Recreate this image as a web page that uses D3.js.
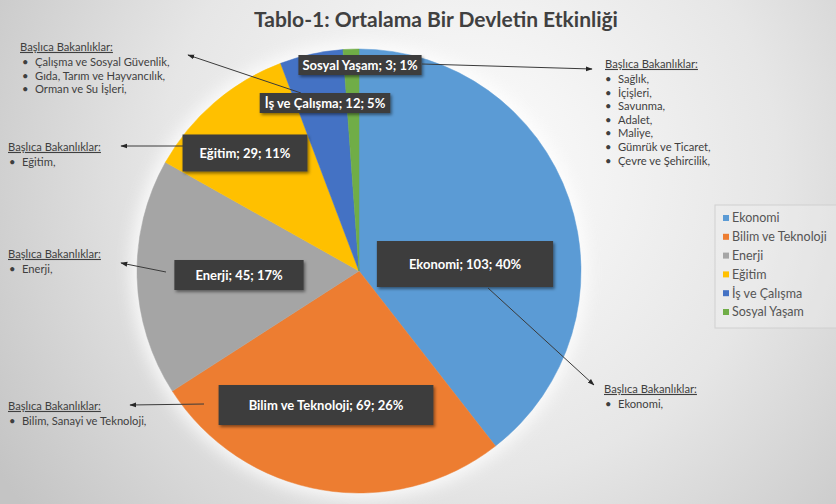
<!DOCTYPE html>
<html>
<head>
<meta charset="utf-8">
<script src="https://cdn.jsdelivr.net/npm/d3@7"></script>
<style>
  html, body { margin: 0; padding: 0; background: #fff; }
  svg { display: block; font-family: Lato, "Open Sans", sans-serif; }
</style>
</head>
<body>
<div id="viz"></div>
<script>
// chart data
var categories = ['Ekonomi', 'Bilim ve Teknoloji', 'Enerji', 'Eğitim', 'İş ve Çalışma', 'Sosyal Yaşam'],
    values = [103, 69, 45, 29, 12, 3],
    percents = [40, 26, 17, 11, 5, 1],
    colors = ['#5b9bd5', '#ed7d31', '#a5a5a5', '#ffc000', '#4472c4', '#70ad47'];

// callout texts
var noteTitle = 'Başlıca Bakanlıklar:',
    ministries = [
        ['Sağlık,', 'İçişleri,', 'Savunma,', 'Adalet,', 'Maliye,', 'Gümrük ve Ticaret,', 'Çevre ve Şehircilik,'],
        ['Ekonomi,'],
        ['Bilim, Sanayi ve Teknoloji,'],
        ['Enerji,'],
        ['Eğitim,'],
        ['Çalışma ve Sosyal Güvenlik,', 'Gıda, Tarım ve Hayvancılık,', 'Orman ve Su İşleri,']
    ];

var width = 836, height = 504,
    cx = 359, cy = 271, radius = 222;

// label boxes: centre offset from the pie centre and [half height, side padding]
// (placed by hand like in the original)
var labelOffsets = [[106, -7], [-33, 134], [-120, 4], [-114, -118], [-34, -168], [1, -206]],
    labelPad = [[22, 32], [19, 30], [14, 21], [17.5, 17], [9, 5], [9, 4]];

// callout layout: block position, arrow start and arrow end
var noteLayout = [
    { x: 605, y: 64, bx: 0, from: [422, 64], to: [592, 69] },
    { x: 604, y: 389, bx: 1, from: [488, 288], to: [594, 385] },
    { x: 8, y: 406, bx: 1, from: [204, 404], to: [130, 405] },
    { x: 8, y: 254, bx: 1, from: [166, 272], to: [121, 263] },
    { x: 8, y: 147, bx: 1, from: [183, 146], to: [121, 146] },
    { x: 20, y: 47, bx: 2, from: [301, 93], to: [188, 55] }
];

var svg = d3.select('#viz').append('svg')
    .attr('width', width)
    .attr('height', height);

var defs = svg.append('defs');

var bg = defs.append('radialGradient')
    .attr('id', 'bg')
    .attr('gradientUnits', 'userSpaceOnUse')
    .attr('cx', 470).attr('cy', 170).attr('r', 560);
bg.append('stop').attr('offset', '0%').attr('stop-color', '#fdfdfd');
bg.append('stop').attr('offset', '55%').attr('stop-color', '#e6e6e6');
bg.append('stop').attr('offset', '100%').attr('stop-color', '#c4c4c4');

var glow = defs.append('filter').attr('id', 'glow')
    .attr('x', '-20%').attr('y', '-20%').attr('width', '140%').attr('height', '140%');
glow.append('feGaussianBlur').attr('stdDeviation', 8);

var shadow = defs.append('filter').attr('id', 'shadow')
    .attr('x', '-20%').attr('y', '-40%').attr('width', '140%').attr('height', '180%');
shadow.append('feDropShadow')
    .attr('dx', 1.5).attr('dy', 2).attr('stdDeviation', 1.5)
    .attr('flood-color', '#000').attr('flood-opacity', 0.45);

defs.append('marker')
    .attr('id', 'arrow')
    .attr('viewBox', '0 0 10 10')
    .attr('refX', 9).attr('refY', 5)
    .attr('markerWidth', 7).attr('markerHeight', 7)
    .attr('orient', 'auto')
    .append('path')
    .attr('d', 'M0,1.5L10,5L0,8.5Z')
    .attr('fill', '#262626');

svg.append('rect')
    .attr('width', width).attr('height', height)
    .attr('fill', 'url(#bg)');

// title
svg.append('text')
    .attr('x', 436).attr('y', 27)
    .attr('text-anchor', 'middle')
    .attr('font-size', 21)
    .attr('font-weight', 700)
    .attr('fill', '#404040')
    .text('Tablo-1: Ortalama Bir Devletin Etkinliği');

// pie
var data = categories.map(function (c, i) {
    return { name: c, value: values[i], pct: percents[i], color: colors[i], i: i };
});

var pie = d3.pie().sort(null).value(function (d) { return d.value; });
var arc = d3.arc().innerRadius(0).outerRadius(radius);

var g = svg.append('g').attr('transform', 'translate(' + cx + ',' + cy + ')');

g.append('circle')
    .attr('r', radius + 6)
    .attr('fill', '#ffffff')
    .attr('opacity', 0.8)
    .attr('filter', 'url(#glow)');

g.selectAll('path.slice')
    .data(pie(data))
    .enter().append('path')
    .attr('class', 'slice')
    .attr('d', arc)
    .attr('fill', function (d) { return d.data.color; })
    .attr('stroke', function (d) { return d.data.color; })
    .attr('stroke-width', 0.5);

// callout arrows
svg.selectAll('line.note-arrow')
    .data(noteLayout)
    .enter().append('line')
    .attr('class', 'note-arrow')
    .attr('x1', function (d) { return d.from[0]; })
    .attr('y1', function (d) { return d.from[1]; })
    .attr('x2', function (d) { return d.to[0]; })
    .attr('y2', function (d) { return d.to[1]; })
    .attr('stroke', '#3a3a3a')
    .attr('stroke-width', 1)
    .attr('marker-end', 'url(#arrow)');

// data labels
var labels = g.selectAll('g.label')
    .data(data)
    .enter().append('g')
    .attr('class', 'label')
    .attr('transform', function (d) {
        var o = labelOffsets[d.i];
        return 'translate(' + o[0] + ',' + o[1] + ')';
    });

labels.each(function (d) {
    var sel = d3.select(this);
    var t = sel.append('text')
        .attr('text-anchor', 'middle')
        .attr('dy', '0.35em')
        .attr('font-size', 13)
        .attr('font-weight', 700)
        .attr('fill', '#ffffff')
        .text(d.name + '; ' + d.value + '; ' + d.pct + '%');
    var w = t.node().getComputedTextLength(),
        p = labelPad[d.i];
    sel.insert('rect', 'text')
        .attr('x', -w / 2 - p[1])
        .attr('y', -p[0] - 1)
        .attr('width', w + 2 * p[1])
        .attr('height', 2 * p[0] + 2)
        .attr('fill', '#3d3d3d')
        .attr('filter', 'url(#shadow)');
});

// callout text blocks
var notes = svg.selectAll('g.note')
    .data(noteLayout)
    .enter().append('g')
    .attr('class', 'note')
    .attr('transform', function (d) { return 'translate(' + d.x + ',' + d.y + ')'; })
    .attr('font-size', 11.2)
    .attr('fill', '#3f3f3f');

notes.append('text')
    .attr('dy', '0.35em')
    .attr('text-decoration', 'underline')
    .text(noteTitle);

notes.each(function (d, i) {
    var items = d3.select(this).selectAll('g.item')
        .data(ministries[i])
        .enter().append('g')
        .attr('class', 'item')
        .attr('transform', function (m, j) { return 'translate(0,' + (15 + j * 13.6) + ')'; });
    items.append('text').attr('x', d.bx).attr('dy', '0.35em').text('•');
    items.append('text').attr('x', 13 + d.bx).attr('dy', '0.35em').text(function (m) { return m; });
});

// legend
var legend = svg.append('g').attr('transform', 'translate(715,205)');
legend.append('rect')
    .attr('width', 130).attr('height', 123)
    .attr('fill', '#f2f2f2').attr('fill-opacity', 0.35)
    .attr('stroke', '#d0d0d0').attr('stroke-width', 1);

var li = legend.selectAll('g.li')
    .data(data)
    .enter().append('g')
    .attr('class', 'li')
    .attr('transform', function (d, i) { return 'translate(8,' + (13 + i * 18.8) + ')'; });
li.append('rect')
    .attr('x', 0).attr('y', -3)
    .attr('width', 6).attr('height', 6)
    .attr('fill', function (d) { return d.color; });
li.append('text')
    .attr('x', 9).attr('dy', '0.35em')
    .attr('font-size', 12.5)
    .attr('fill', '#555')
    .text(function (d) { return d.name; });
</script>
</body>
</html>
